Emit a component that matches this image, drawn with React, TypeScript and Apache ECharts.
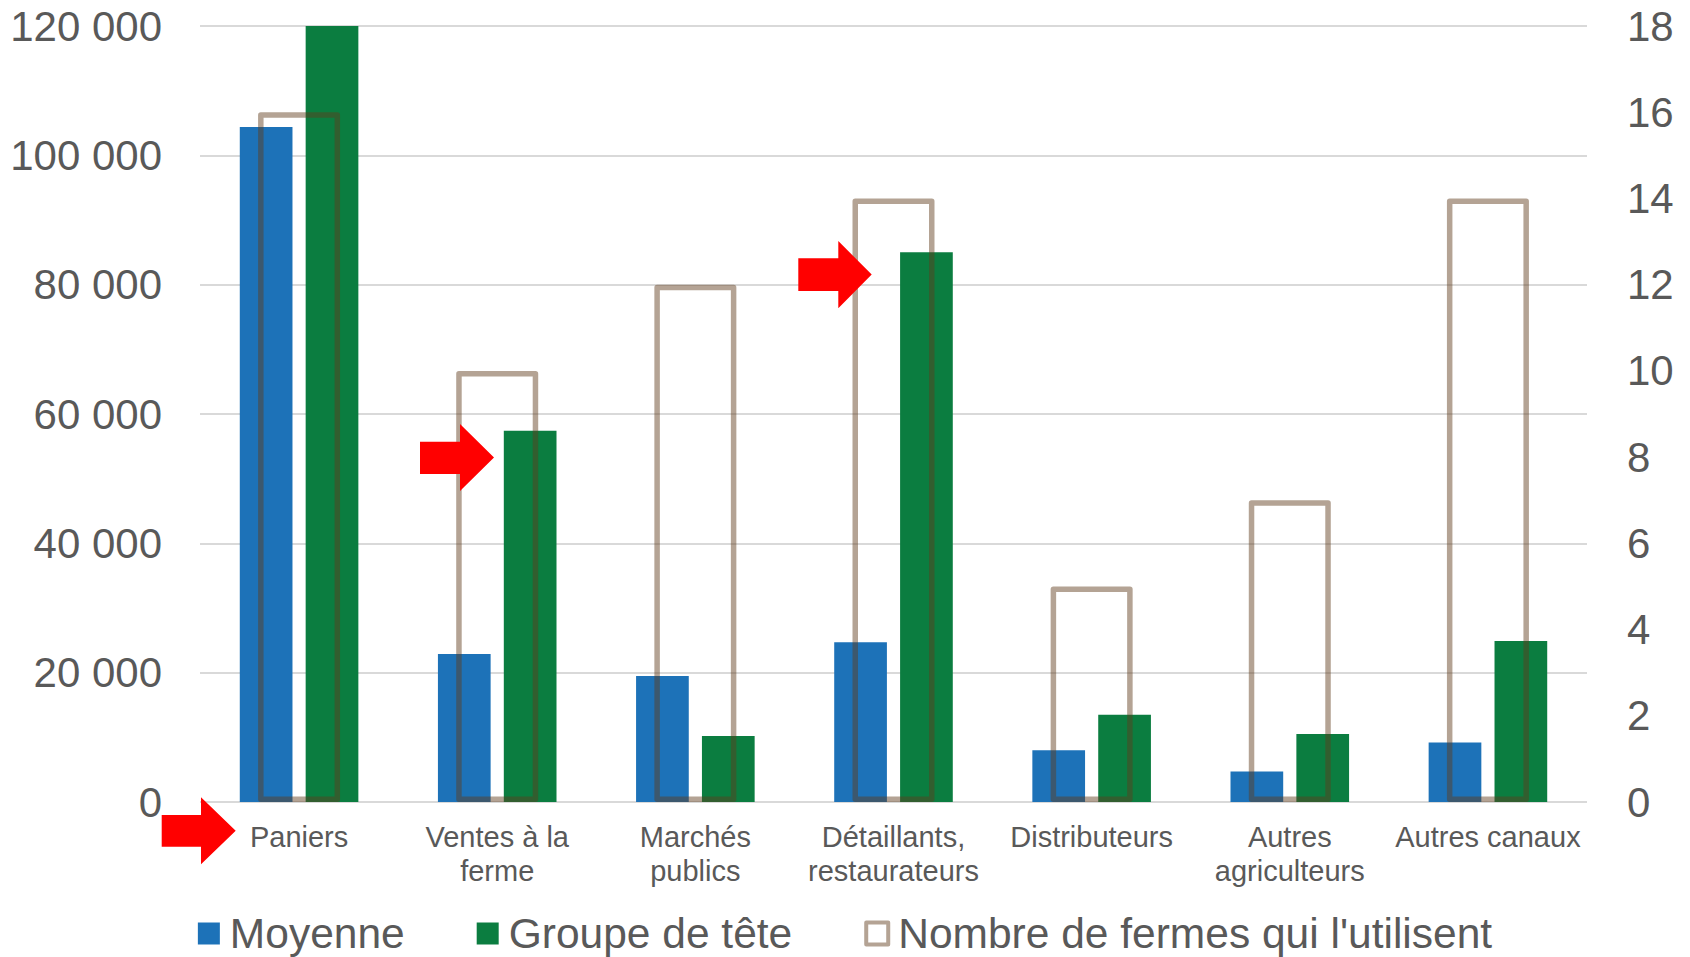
import React, { useEffect, useRef } from "react";
import * as echarts from "echarts";

const categories = [
  "Paniers",
  "Ventes à la\nferme",
  "Marchés\npublics",
  "Détaillants,\nrestaurateurs",
  "Distributeurs",
  "Autres\nagriculteurs",
  "Autres canaux",
];
const moyenne = [104400, 22900, 19500, 24700, 8000, 4700, 9200];
const groupeDeTete = [120000, 57400, 10200, 85000, 13500, 10500, 24900];
const nombreFermes = [16, 10, 12, 14, 5, 7, 14];

const seriesNames = ["Moyenne", "Groupe de tête", "Nombre de fermes qui l'utilisent"];

const FONT = "'Liberation Sans', Arial, 'DejaVu Sans', sans-serif";
const TEXT = "#595959";

const fmt = (v: number) => String(v).replace(/\B(?=(\d{3})+(?!\d))/g, " ");

function arrow(sx: number, st: number, sb: number, hx: number, ht: number, hb: number, tx: number, ty: number) {
  return {
    type: "polygon",
    silent: true,
    z: 100,
    shape: {
      points: [
        [sx, st],
        [hx, st],
        [hx, ht],
        [tx, ty],
        [hx, hb],
        [hx, sb],
        [sx, sb],
      ],
    },
    style: { fill: "#ff0000" },
  };
}

export default function App() {
  const ref = useRef<HTMLDivElement>(null);
  useEffect(() => {
    document.body.style.margin = "0";
    const chart = echarts.init(ref.current!, null, { renderer: "svg" });
    chart.setOption({
      animation: false,
      backgroundColor: "#ffffff",
      textStyle: { fontFamily: FONT },
      grid: { left: 200, right: 103, top: 26, bottom: 155, containLabel: false },
      legend: {
        left: "center",
        top: 907,
        itemWidth: 22,
        itemHeight: 22,
        itemGap: 72,
        selectedMode: false,
        icon: "rect",
        textStyle: { fontSize: 42.5, color: TEXT, fontFamily: FONT, padding: [0, 0, 0, 5] },
        data: [
          { name: seriesNames[0], itemStyle: { color: "#1d72b8" } },
          { name: seriesNames[1], itemStyle: { color: "#0b7d40" } },
          {
            name: seriesNames[2],
            itemStyle: { color: "#ffffff", borderColor: "#b4a394", borderWidth: 4 },
          },
        ],
      },
      xAxis: [
        {
          type: "category",
          data: categories,
          axisLine: { show: false },
          axisTick: { show: false },
          axisLabel: {
            fontSize: 29,
            color: TEXT,
            fontFamily: FONT,
            lineHeight: 34,
            margin: 18,
            interval: 0,
          },
        },
        {
          type: "category",
          data: categories,
          show: false,
        },
      ],
      yAxis: [
        {
          type: "value",
          min: 0,
          max: 120000,
          interval: 20000,
          axisLine: { show: false },
          axisTick: { show: false },
          splitLine: { show: true, lineStyle: { color: "#d9d9d9", width: 2 } },
          axisLabel: { fontSize: 42, color: TEXT, fontFamily: FONT, margin: 38, formatter: fmt },
        },
        {
          type: "value",
          min: 0,
          max: 18,
          interval: 2,
          position: "right",
          axisLine: { show: false },
          axisTick: { show: false },
          splitLine: { show: false },
          axisLabel: { fontSize: 42, color: TEXT, fontFamily: FONT, margin: 40 },
        },
      ],
      series: [
        {
          name: seriesNames[0],
          type: "bar",
          data: moyenne,
          xAxisIndex: 0,
          yAxisIndex: 0,
          barWidth: 52.7,
          barGap: "25%",
          itemStyle: { color: "#1d72b8" },
          z: 2,
        },
        {
          name: seriesNames[1],
          type: "bar",
          data: groupeDeTete,
          xAxisIndex: 0,
          yAxisIndex: 0,
          barWidth: 52.7,
          barGap: "25%",
          itemStyle: { color: "#0b7d40" },
          z: 2,
        },
        {
          name: seriesNames[2],
          type: "bar",
          data: nombreFermes,
          xAxisIndex: 1,
          yAxisIndex: 1,
          barWidth: 82,
          itemStyle: {
            color: "rgba(0,0,0,0)",
            borderColor: "rgba(96,59,27,0.47)",
            borderWidth: 5.5,
            borderJoin: "round",
          },
          z: 5,
        },
      ],
      graphic: [
        arrow(161.7, 815, 846.7, 201, 797.3, 864.3, 235.7, 830.8),
        arrow(420, 441.7, 474, 460, 424, 491, 494, 457.5),
        arrow(798.3, 258.3, 291, 838.3, 241, 308.3, 871.7, 274.6),
      ],
    });
    return () => chart.dispose();
  }, []);
  return <div ref={ref} style={{ width: 1690, height: 957 }} />;
}
